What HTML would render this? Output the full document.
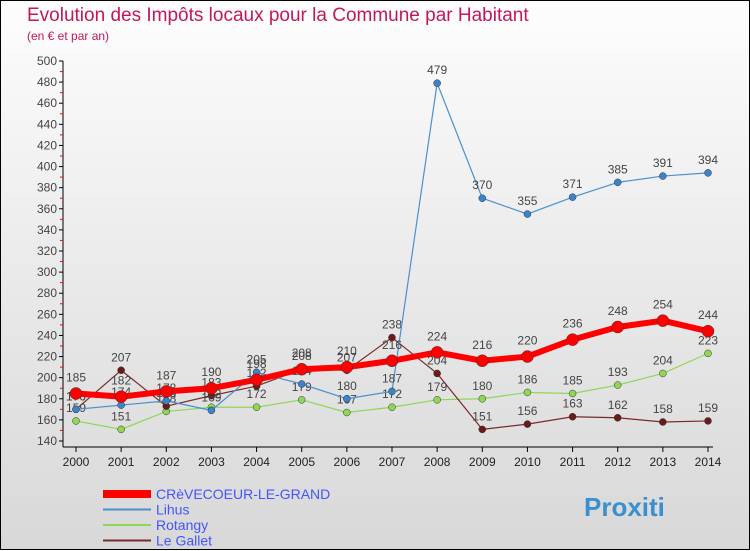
<!DOCTYPE html>
<html><head><meta charset="utf-8"><style>
body{margin:0;width:750px;height:550px;overflow:hidden;font-family:"Liberation Sans",sans-serif}
#wrap{position:relative;width:748px;height:548px;border:1px solid #000;background:linear-gradient(#fdfdfd,#e6e6e6 60%,#d8d8d8)}
.t{position:absolute;color:#c2185b}
</style></head><body>
<div id="wrap">
<div class="t" style="left:26px;top:4px;font-size:19px">Evolution des Impôts locaux pour la Commune par Habitant</div>
<div class="t" style="left:26px;top:28px;font-size:12px">(en € et par an)</div>
<svg id="c" width="750" height="550" style="position:absolute;left:0;top:0"></svg>
</div>
<script>
const years=[2000,2001,2002,2003,2004,2005,2006,2007,2008,2009,2010,2011,2012,2013,2014];
const yTicks=[140,160,180,200,220,240,260,280,300,320,340,360,380,400,420,440,460,480,500];
const crev=[185,182,187,190,198,208,210,216,224,216,220,236,248,254,244];
const lihus=[170,174,178,169,205,194,180,187,479,370,355,371,385,391,394];
const rotangy=[159,151,168,172,172,179,167,172,179,180,186,185,193,204,223];
const gallet=[170,207,173,183,192,208,207,238,204,151,156,163,162,158,159];
const NS="http://www.w3.org/2000/svg",svg=document.getElementById('c');
const X=i=>75+i*(632/14), Y=v=>440-(v-140)*(380/360);
function el(t,a,p){const e=document.createElementNS(NS,t);for(const k in a)e.setAttribute(k,a[k]);(p||svg).appendChild(e);return e;}
const ax=el('g',{});


el('line',{x1:62,y1:60,x2:62,y2:446,stroke:'#000'},ax);
el('line',{x1:62,y1:446,x2:712,y2:446,stroke:'#000'},ax);
yTicks.forEach(v=>{el('line',{x1:58,y1:Y(v),x2:62,y2:Y(v),stroke:'#000'},ax);
if(v<500)el('line',{x1:59,y1:Y(v+10),x2:62,y2:Y(v+10),stroke:'#f00'},ax);
const t=el('text',{x:56,y:Y(v)+4,'text-anchor':'end','font-size':12,fill:'#444'},ax);t.textContent=v;

});
years.forEach((y,i)=>{el('line',{x1:X(i),y1:446,x2:X(i),y2:451,stroke:'#000'},ax);
const t=el('text',{x:X(i),y:465,'text-anchor':'middle','font-size':12,fill:'#222'},ax);t.textContent=y;

});
function series(d,col,w,r,dot,name,off){const g=el('g',{});


el('polyline',{points:d.map((v,i)=>X(i)+','+Y(v)).join(' '),fill:'none',stroke:col,'stroke-width':w,'stroke-linejoin':'round'},g);
d.forEach((v,i)=>{const c=el('circle',{cx:X(i),cy:Y(v),r:r,fill:dot,stroke:'#333','stroke-width':0.5},g);


const t=el('text',{x:X(i),y:Y(v)-off,'text-anchor':'middle','font-size':12,fill:'#444'},g);t.textContent=v;});}
series(rotangy,'#8fd656',1.2,3.5,'#8fd656','series-rotangy',9);
series(gallet,'#7a2a2a',1.2,3.5,'#6b1a1a','series-le-gallet',9);
series(lihus,'#4a90d0',1.2,3.5,'#3a84cc','series-lihus',9);
series(crev,'#ff0000',6,6,'#ff0000','series-crevecoeur',12);
const lg=[['CRèVECOEUR-LE-GRAND','#ff0000',8],['Lihus','#4a90d0',2],['Rotangy','#8fd656',2],['Le Gallet','#7a2a2a',2]];
lg.forEach((l,i)=>{const g=el('g',{});


const y=493+i*15.5;el('line',{x1:102,y1:y,x2:150,y2:y,stroke:l[1],'stroke-width':l[2]},g);
const t=el('text',{x:155,y:y+5,'font-size':14,fill:'#4455ff'},g);t.textContent=l[0];});
const p=el('text',{x:583,y:515,'font-size':26,'font-weight':'bold',fill:'#3a8fd0'});p.textContent='Proxiti';


</script>
</body></html>
